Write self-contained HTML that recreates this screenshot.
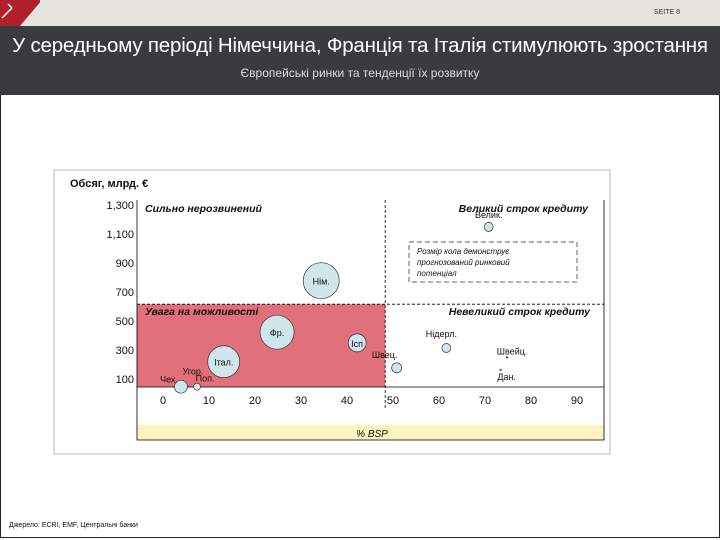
<!DOCTYPE html>
<html><head><meta charset="utf-8"><style>
body{margin:0;width:720px;height:540px;overflow:hidden;background:#fff;font-family:"Liberation Sans",sans-serif;position:relative}
#page{position:absolute;left:0;top:0;width:718px;height:537px;border:1px solid #222;border-top:none}
#topbar{position:absolute;left:0;top:0;width:720px;height:26px;background:#e6e4de}
#band{position:absolute;left:0;top:26px;width:720px;height:69px;background:#383c3f;color:#fff;text-align:center}
</style></head><body>
<div id="page"></div>
<div id="topbar">
<svg width="40" height="26" style="position:absolute;left:0;top:0"><path d="M0 0 H42 Q30 14 20 26 H0 Z" fill="#b0202a"/><path d="M2 18 L12 8 M8 4 L12 8" stroke="#fff" stroke-width="1.5"/></svg>
<div style="position:absolute;right:40px;top:9px;font-size:7px;color:#333">SEITE 8</div>
</div>
<div id="band">
<div style="position:absolute;left:0;width:720px;top:8px;font-size:20.5px;letter-spacing:-0.2px">У середньому періоді Німеччина, Франція та Італія стимулюють зростання</div>
<div style="position:absolute;left:0;width:720px;top:40px;font-size:12px;color:#ddd">Європейські ринки та тенденції їх розвитку</div>
</div>
<div style="position:absolute;left:9px;top:522px;font-size:7px;color:#111">Джерело: ECRI, EMF, Центральні банки</div>
<svg id="chart" width="720" height="540" style="position:absolute;left:0;top:0" font-family="Liberation Sans, sans-serif"></svg>
<script>
const names=["Нім.","Фр.","Ісп","Італ.","Чех.","Поп.","Швец.","Нідерл.","Велик.","Швейц.","Дан."];
const xVals=[34.4,24.8,42.2,13.2,3.9,7.4,50.8,61.6,70.8,74.8,73.4];
const yVals=[778,423,349,219,47,47,177,314,1149,249,163];
const sizes=[18,17,9,16,6.5,3.5,5,4.5,4.5,0.8,0.8];
const xTicks=[0,10,20,30,40,50,60,70,80,90];
const yTicks=[1300,1100,900,700,500,300,100];
const yTickLabels=["1,300","1,100","900","700","500","300","100"];
const thresholdX=48.3, thresholdY=616;
const xs=v=>163+4.6*v, ys=v=>379-(v-100)*0.145;
const svg=document.getElementById('chart'),NS='http://www.w3.org/2000/svg';
function mk(t,a,txt){const e=document.createElementNS(NS,t);for(const k in a)e.setAttribute(k,a[k]);if(txt!=null)e.textContent=txt;svg.appendChild(e);return e;}
let e;
e=mk('rect',{x:54,y:170,width:556,height:284,fill:'none',stroke:'#bbb'});


e=mk('text',{x:70,y:187,'font-size':11,'font-weight':'bold',fill:'#111'},'Обсяг, млрд. €');


const axY=387,left=137,right=604;
e=mk('rect',{x:left,y:ys(thresholdY),width:xs(thresholdX)-left,height:axY-ys(thresholdY),fill:'#e2707a'});


e=mk('rect',{x:left,y:425,width:right-left,height:15,fill:'#fbf3c0'});


e=mk('text',{x:372,y:437,'font-size':10,'font-style':'italic','text-anchor':'middle',fill:'#111'},'% BSP');


mk('path',{d:`M${left} 200 V440 H${right} V200`,fill:'none',stroke:'#000','stroke-width':0.8});
mk('line',{x1:left,y1:axY,x2:right,y2:axY,stroke:'#000','stroke-width':0.8});
e=mk('line',{x1:xs(thresholdX),y1:200,x2:xs(thresholdX),y2:410,stroke:'#000','stroke-dasharray':'3,2','stroke-width':0.8});


e=mk('line',{x1:left,y1:ys(thresholdY),x2:right,y2:ys(thresholdY),stroke:'#000','stroke-dasharray':'3,2','stroke-width':0.8});


xTicks.forEach(v=>{e=mk('text',{x:xs(v),y:404,'font-size':11,'text-anchor':'middle',fill:'#111'},v);

});
yTicks.forEach((v,i)=>{e=mk('text',{x:134,y:ys(v)+4,'font-size':11,'text-anchor':'end',fill:'#111'},yTickLabels[i]);

});
[[145,212,'start','Сильно нерозвинений'],[588,212,'end','Великий строк кредиту'],[145,315,'start','Увага на можливості'],[590,315,'end','Невеликий строк кредиту']].forEach(q=>{
e=mk('text',{x:q[0],y:q[1],'font-size':10.5,'font-style':'italic','font-weight':'bold','text-anchor':q[2],fill:'#111'},q[3]);

});
e=mk('rect',{x:409,y:242,width:168,height:40,fill:'none',stroke:'#999','stroke-dasharray':'5,3','stroke-width':1.5});


['Розмір кола демонструє','прогнозований ринковий','потенціал'].forEach((t,i)=>{e=mk('text',{x:417,y:254+i*11,'font-size':8,'font-style':'italic',fill:'#111'},t);

});
const lab={0:[0,4,'middle'],1:[0,4,'middle'],2:[0,4,'middle'],3:[0,4,'middle'],4:[-3,-4,'end'],5:[8,-5,'middle'],6:[-12,-10,'middle'],7:[-5,-11,'middle'],8:[0,-9,'middle'],9:[5,-3,'middle'],10:[6,10,'middle']};
names.forEach((n,i)=>{
e=mk('circle',{cx:xs(xVals[i]),cy:ys(yVals[i]),r:sizes[i],fill:'#cfe6ea',stroke:'#333','stroke-width':0.7});


const L=lab[i];
e=mk('text',{x:xs(xVals[i])+L[0],y:ys(yVals[i])+L[1],'font-size':9,'text-anchor':L[2],fill:'#111'},n);


});
e=mk('text',{x:xs(3.9)+12,y:ys(47)-12,'font-size':9,'text-anchor':'middle',fill:'#111'},'Угор.');


</script>
</body></html>
